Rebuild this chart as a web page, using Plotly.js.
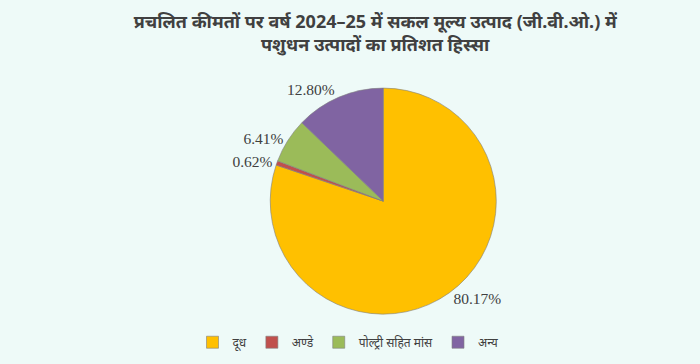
<!DOCTYPE html>
<html>
<head>
<meta charset="utf-8">
<script src="https://cdn.plot.ly/plotly-3.0.1.min.js"></script>
<style>html,body{margin:0;padding:0;background:#eefaf8;}</style>
</head>
<body>
<div id="chart" style="width:700px;height:364px;"></div>
<script>
const categories = ['दूध', 'अण्डे', 'पोल्ट्री सहित मांस', 'अन्य'];
const shares = [80.17, 0.62, 6.41, 12.80];
const colors = ['#FFC000', '#C0504D', '#9BBB59', '#8064A2'];
const titleText = 'प्रचलित कीमतों पर वर्ष 2024–25 में सकल मूल्य उत्पाद (जी.वी.ओ.) में<br>पशुधन उत्पादों का प्रतिशत हिस्सा';

const data = [{
  type: 'pie',
  labels: categories,
  values: shares,
  sort: false,
  direction: 'clockwise',
  rotation: 0,
  marker: {colors: colors, line: {color: '#808080', width: 0.6}},
  textposition: 'outside',
  texttemplate: '%{value:.2f}%',
  textfont: {family: 'Liberation Serif', size: 15.5, color: '#404040'},
  domain: {x: [0.386, 0.709], y: [0.137, 0.758]},
  automargin: false,
  hoverinfo: 'label+value'
}];

const layout = {
  width: 700, height: 364,
  paper_bgcolor: '#eefaf8',
  plot_bgcolor: '#eefaf8',
  margin: {l: 0, r: 0, t: 0, b: 0},
  title: {
    text: titleText,
    x: 0.536, xanchor: 'center',
    y: 0.924, yanchor: 'top',
    font: {family: 'Noto Sans, sans-serif', size: 18, color: '#404040', weight: 'bold'}
  },
  showlegend: true,
  legend: {
    orientation: 'h',
    x: 0.275, xanchor: 'left',
    y: 0.02, yanchor: 'bottom',
    font: {family: 'Noto Sans, sans-serif', size: 12, color: '#404040'},
    itemwidth: 30,
    bgcolor: 'rgba(0,0,0,0)'
  }
};

Plotly.newPlot('chart', data, layout, {displayModeBar: false});
</script>
</body>
</html>
